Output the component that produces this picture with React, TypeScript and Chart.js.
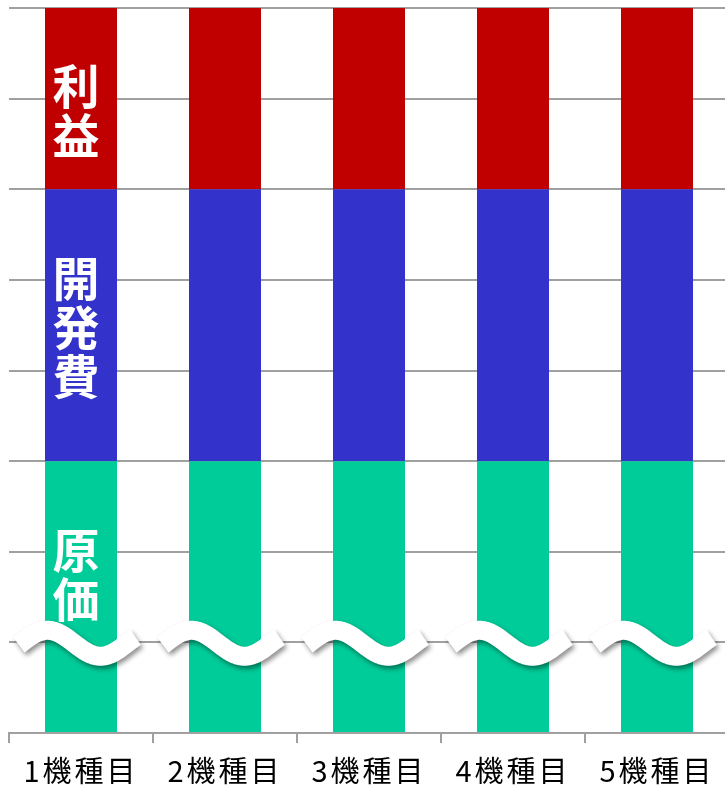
import React, { useEffect, useRef } from 'react';
import { Chart, registerables } from 'chart.js';

Chart.register(...registerables);

const categories = ['1機種目', '2機種目', '3機種目', '4機種目', '5機種目'];
const costValues = [3, 3, 3, 3, 3];
const devValues = [3, 3, 3, 3, 3];
const profitValues = [2, 2, 2, 2, 2];
const seriesNames = ['原価', '開発費', '利益'];
const yMin = 0;
const yMax = 8;
const breakValue = 0.99;

const FONT = '"Noto Sans CJK JP", "Noto Sans", sans-serif';

const letterSpacingPlugin = {
  id: 'tickLetterSpacing',
  beforeDraw(chart: any) {
    try { chart.ctx.letterSpacing = '3px'; } catch (e) {}
  },
  beforeDatasetsDraw(chart: any) {
    try { chart.ctx.letterSpacing = '0px'; } catch (e) {}
  },
};

const segmentLabelPlugin = {
  id: 'segmentLabels',
  afterDatasetsDraw(chart: any) {
    const ctx = chart.ctx;
    const offsets = [-22, 2, 12];
    ctx.save();
    try { ctx.letterSpacing = '0px'; } catch (e) {}
    ctx.fillStyle = '#ffffff';
    ctx.font = `bold 47px ${FONT}`;
    ctx.textAlign = 'center';
    ctx.textBaseline = 'middle';
    chart.data.datasets.forEach((ds: any, i: number) => {
      const meta = chart.getDatasetMeta(i);
      const bar = meta.data[0];
      if (!bar) return;
      const top = Math.min(bar.y, bar.base);
      const bottom = Math.max(bar.y, bar.base);
      const cy = (top + bottom) / 2 + offsets[i];
      const chars = Array.from(String(ds.label));
      const step = 49;
      const start = cy - ((chars.length - 1) * step) / 2;
      chars.forEach((c, k) => {
        ctx.fillText(c, bar.x - 5, start + k * step);
      });
    });
    ctx.restore();

    // break symbols
    const yScale = chart.scales.y;
    const cy = yScale.getPixelForValue(breakValue);
    const meta0 = chart.getDatasetMeta(0);
    meta0.data.forEach((bar: any) => {
      const x0 = bar.x - 60;
      const A = 13;
      const P = 106;
      ctx.save();
      ctx.beginPath();
      const n = 90;
      const t0 = -0.02;
      const t1 = 1.08;
      for (let i = 0; i <= n; i++) {
        const t = t0 + (i / n) * (t1 - t0);
        const x = x0 + t * P;
        const y = cy - A * Math.sin(2 * Math.PI * t);
        if (i === 0) ctx.moveTo(x, y);
        else ctx.lineTo(x, y);
      }
      ctx.shadowColor = 'rgba(0,0,0,0.45)';
      ctx.shadowBlur = 5;
      ctx.shadowOffsetX = 2;
      ctx.shadowOffsetY = 3;
      ctx.strokeStyle = '#ffffff';
      ctx.lineWidth = 19;
      ctx.lineCap = 'butt';
      ctx.lineJoin = 'round';
      ctx.stroke();
      ctx.restore();
    });
  },
};

export default function App() {
  const ref = useRef<HTMLCanvasElement | null>(null);

  useEffect(() => {
    if (!ref.current) return;
    const chart = new Chart(ref.current, {
      type: 'bar',
      data: {
        labels: categories,
        datasets: [
          { label: seriesNames[0], data: costValues, backgroundColor: '#00CC99', barPercentage: 0.5, categoryPercentage: 1.0 },
          { label: seriesNames[1], data: devValues, backgroundColor: '#3333CC', barPercentage: 0.5, categoryPercentage: 1.0 },
          { label: seriesNames[2], data: profitValues, backgroundColor: '#C00000', barPercentage: 0.5, categoryPercentage: 1.0 },
        ],
      },
      options: {
        responsive: true,
        maintainAspectRatio: false,
        animation: false,
        layout: { padding: { left: 9, right: 11, top: 8, bottom: 0 } },
        plugins: { legend: { display: false }, tooltip: { enabled: false } },
        scales: {
          x: {
            stacked: true,
            grid: { drawOnChartArea: false, drawTicks: true, tickLength: 10, color: '#a0a0a0', lineWidth: 2 },
            border: { display: true, color: '#a0a0a0', width: 2 },
            ticks: { color: '#000000', font: { family: FONT, size: 29 }, padding: 11, maxRotation: 0 },
            afterFit: (s: any) => { s.height = 55; },
          },
          y: {
            stacked: true,
            min: yMin,
            max: yMax,
            ticks: { display: false, stepSize: 1 },
            grid: { color: '#a0a0a0', lineWidth: 2, drawTicks: false },
            border: { display: false },
            afterFit: (s: any) => { s.width = 0; },
          },
        },
      },
      plugins: [letterSpacingPlugin, segmentLabelPlugin],
    });
    return () => chart.destroy();
  }, []);

  return (
    <div style={{ position: 'fixed', left: 0, top: 0, width: 725, height: 788, overflow: 'hidden', background: '#fff' }}>
      <div style={{ position: 'relative', width: 740, height: 788 }}>
        <canvas ref={ref} />
      </div>
    </div>
  );
}
